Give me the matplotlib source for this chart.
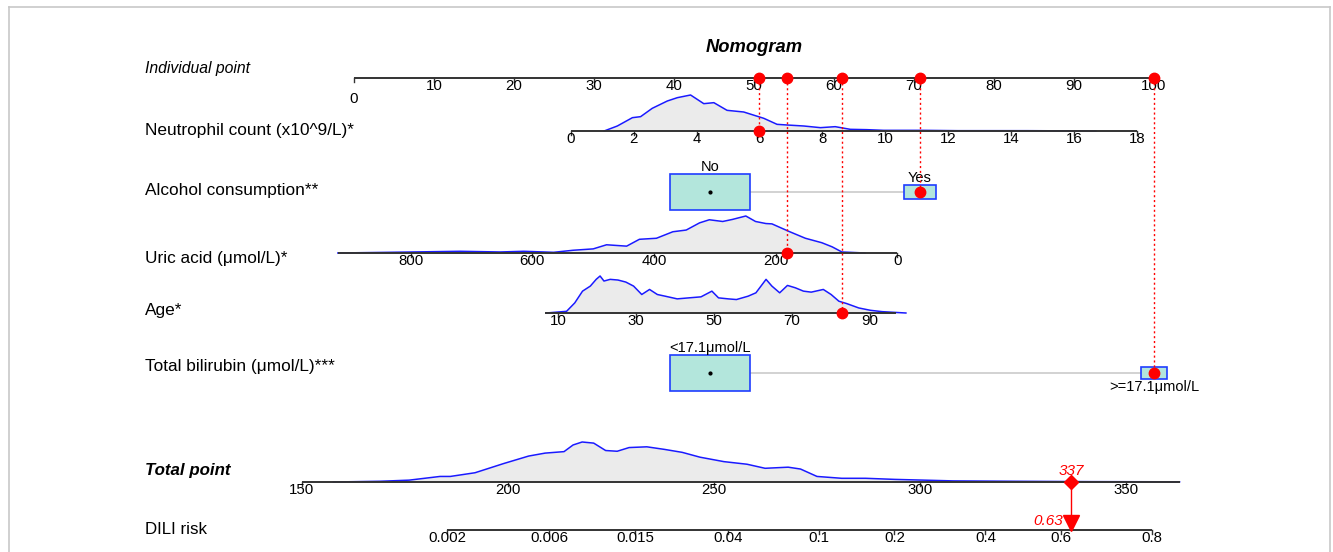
import numpy as np
import matplotlib.pyplot as plt

plt.rcParams['font.family'] = ['Liberation Sans', 'DejaVu Sans']

# ---- values ----
point_ticks = list(range(0, 101, 10))

neut_ticks = list(range(0, 19, 2))
neut_range = (0, 18)
neut_a, neut_b = 27.1, 3.93          # points = a + b * value
neut_x = [1.06, 1.48, 1.96, 2.22, 2.59, 3.07, 3.39, 3.81, 4.23, 4.55, 4.97, 5.5, 6.14,
          6.56, 6.88, 7.41, 7.94, 8.41, 8.89, 9.42, 9.95, 10.6, 11.2, 12.3, 14.5, 16.7]
neut_dens = [0, 15, 40, 43, 68, 90, 100, 108, 82, 85, 62, 57, 38,
             20, 18, 15, 10, 13, 5, 4, 2, 2, 2, 1, 1, 0]

alc_cats = ["No", "Yes"]
alc_pts = [44.5, 70.75]
alc_freq = [0.863, 0.137]

uric_ticks = [800, 600, 400, 200, 0]
uric_range = (920, 0)
uric_a, uric_b = 67.9, -0.076
uric_x = [920, 836, 719, 653, 614, 565, 533, 500, 478, 445, 424, 396, 369, 347,
          325, 309, 287, 271, 249, 233, 216, 206, 178, 151, 124, 107, 91, 53]
uric_dens = [0, 2, 5, 3, 5, 2, 8, 12, 24, 20, 40, 43, 62, 67,
             88, 97, 92, 98, 108, 92, 86, 85, 63, 43, 30, 18, 3, 0]

age_ticks = [10, 30, 50, 70, 90]
age_range = (6.7, 96.8)
age_a, age_b = 20.63, 0.487
age_x = [7, 12.2, 14.3, 16.3, 18.3, 19.8, 20.8, 21.8, 23.4, 25.4, 27.4, 29.4, 31.5,
         33.5, 35.5, 37.5, 40.6, 43.6, 46.7, 49.5, 51.2, 53.7, 55.8, 58.8, 60.8,
         63.4, 64.9, 66.9, 68.9, 70.9, 73, 75, 78.1, 80.1, 82.1, 84.1, 87.2, 90.2,
         93.2, 99.3]
age_dens = [0, 5, 30, 65, 80, 100, 110, 95, 100, 98, 92, 80, 55,
            70, 55, 50, 42, 45, 48, 65, 45, 42, 40, 50, 60,
            100, 80, 60, 82, 75, 65, 62, 70, 55, 35, 28, 15, 8,
            4, 0]

bili_cats = ["<17.1\u03bcmol/L", ">=17.1\u03bcmol/L"]
bili_pts = [44.5, 100]
bili_freq = [0.9, 0.1]

total_ticks = [150, 200, 250, 300, 350]
total_range = (150, 363)
total_x = [157.6, 169, 176, 183.5, 186, 192, 199, 205, 209, 213.6, 215.8, 218, 220.8,
           223.7, 226.5, 229.4, 233.7, 238, 242.3, 246.6, 252.4, 258, 262.4, 268,
           271, 275, 281, 286.8, 294, 301, 308, 322.7, 341, 363]
total_dens = [0, 2, 5, 15, 15, 25, 50, 70, 78, 82, 100, 108, 105,
              85, 83, 93, 95, 88, 80, 67, 55, 48, 37, 40,
              35, 15, 10, 10, 7, 5, 3, 2, 1, 0.5]

risk_ticks = [0.002, 0.006, 0.015, 0.04, 0.1, 0.2, 0.4, 0.6, 0.8]
risk_labels = ["0.002", "0.006", "0.015", "0.04", "0.1", "0.2", "0.4", "0.6", "0.8"]
risk_a, risk_b = -14.44, 0.04443     # logit(p) = a + b * total points

# patient shown in red
pat_neut, pat_alc, pat_uric, pat_age, pat_bili = 6.0, "Yes", 181, 83, bili_cats[1]

# ---- helpers ----
def tot2x(tp):
    return -6.5 + (np.asarray(tp, float) - 150) * 0.515

def risk2tot(p):
    p = np.asarray(p, float)
    return (np.log(p / (1 - p)) - risk_a) / risk_b

fig = plt.figure(figsize=(13.33, 5.52), dpi=100)
ax = fig.add_axes([0, 0, 1, 1])
ax.set_xlim(-354 / 8, (1333 - 354) / 8)
ax.set_ylim(552, 0)
ax.axis('off')

# light frame round the figure
bax = fig.add_axes([9 / 1333, -0.05, 1321 / 1333, 1.05 - 7 / 552], zorder=-5)
bax.set_xticks([]); bax.set_yticks([])
for s in bax.spines.values():
    s.set_color('#c8c8c8'); s.set_linewidth(1.2)
bax.patch.set_alpha(0)

LX = -26.1
AXC = '#333333'
TICK_FS = 10.8

def draw_axis(y, x0, x1, tx, tl, drop_first=False):
    ax.plot([x0, x1], [y, y], color=AXC, lw=1.4, solid_capstyle='butt', zorder=2)
    for i, (x, l) in enumerate(zip(tx, tl)):
        ax.plot([x, x], [y, y + 4], color=AXC, lw=1, zorder=2)
        dy = 13 if (drop_first and i == 0) else 0
        ax.text(x, y + 1 + dy, l, ha='center', va='top', fontsize=TICK_FS, zorder=3)

def draw_density(y, xs, dens, h):
    d = np.asarray(dens, float)
    yy = y - d / d.max() * h
    ax.fill_between(xs, y, yy, color='#ebebeb', lw=0, zorder=1)
    ax.plot(xs, yy, color='#1a1aff', lw=1.1, zorder=2)

def draw_boxes(y, pts, freq, cats, label_below_small=False):
    f = np.asarray(freq, float)
    s = np.sqrt(f / f.max())
    ax.plot([pts[0], pts[1]], [y, y], color='#cfcfcf', lw=1.3, zorder=1)
    for i, (p, k, c) in enumerate(zip(pts, s, cats)):
        w, h = 9.9 * k, 36 * k
        ax.add_patch(plt.Rectangle((p - w / 2, y - h / 2), w, h, facecolor='#b3e6dc',
                                   edgecolor='#1f3dff', lw=1.2, zorder=2))
        if k == 1:
            ax.plot(p, y, 'o', color='black', ms=2, zorder=3)
        if label_below_small and k < 1:
            ax.text(p, y + h / 2 + 1, c, ha='center', va='top', fontsize=10.5)
        else:
            ax.text(p, y - h / 2, c, ha='center', va='bottom', fontsize=10.5)

# title and row labels
ax.text(50, 47, "Nomogram", ha='center', va='center', fontsize=13.2,
        fontweight='bold', fontstyle='italic')
ax.text(LX, 68, "Individual point", va='center', fontsize=11.3, fontstyle='italic')
rows = [("Neutrophil count (x10^9/L)*", 131), ("Alcohol consumption**", 190),
        ("Uric acid (\u03bcmol/L)*", 258), ("Age*", 311),
        ("Total bilirubin (\u03bcmol/L)***", 366)]
for name, y in rows:
    ax.text(LX, y, name, va='center', fontsize=12.4)
ax.text(LX, 470, "Total point", va='center', fontsize=12.2, fontweight='bold',
        fontstyle='italic')
ax.text(LX, 529, "DILI risk", va='center', fontsize=12.2,
        family=['Liberation Sans Narrow', 'Liberation Sans'])

# Y positions of rows
Y_TOP, Y_NEUT, Y_ALC, Y_URIC, Y_AGE, Y_BILI, Y_TOT, Y_RISK = 78, 131, 192, 253, 313, 373, 482, 530

# points axis
draw_axis(Y_TOP, 0, 100, point_ticks, [str(t) for t in point_ticks], drop_first=True)

# neutrophil
nf = lambda v: neut_a + neut_b * np.asarray(v, float)
draw_density(Y_NEUT, nf(neut_x), neut_dens, 36)
draw_axis(Y_NEUT, nf(neut_range[0]), nf(neut_range[1]), nf(neut_ticks),
          [str(t) for t in neut_ticks])

# alcohol
draw_boxes(Y_ALC, alc_pts, alc_freq, alc_cats)

# uric acid
uf = lambda v: uric_a + uric_b * np.asarray(v, float)
draw_density(Y_URIC, uf(uric_x), uric_dens, 37)
draw_axis(Y_URIC, uf(uric_range[0]), uf(uric_range[1]), uf(uric_ticks),
          [str(t) for t in uric_ticks])

# age
af = lambda v: age_a + age_b * np.asarray(v, float)
draw_density(Y_AGE, af(age_x), age_dens, 37)
draw_axis(Y_AGE, af(age_range[0]), af(age_range[1]), af(age_ticks),
          [str(t) for t in age_ticks])

# bilirubin
draw_boxes(Y_BILI, bili_pts, bili_freq, bili_cats, label_below_small=True)

# total points
draw_density(Y_TOT, tot2x(total_x), total_dens, 40)
draw_axis(Y_TOT, tot2x(total_range[0]), tot2x(total_range[1]), tot2x(total_ticks),
          [str(t) for t in total_ticks])

# risk
rx = tot2x(risk2tot(risk_ticks))
draw_axis(Y_RISK, rx[0], rx[-1], rx, risk_labels)

# patient
p_pts = [float(nf(pat_neut)), alc_pts[alc_cats.index(pat_alc)], float(uf(pat_uric)),
         float(af(pat_age)), bili_pts[bili_cats.index(pat_bili)]]
p_rows = [Y_NEUT, Y_ALC, Y_URIC, Y_AGE, Y_BILI]
for p, y in zip(p_pts, p_rows):
    ax.plot([p, p], [Y_TOP, y], color='red', lw=1, ls=(0, (1.5, 2)), zorder=4)
    ax.plot(p, Y_TOP, 'o', color='red', ms=7.5, zorder=5)
    ax.plot(p, y, 'o', color='red', ms=7.5, zorder=5)

tp = sum(p_pts)
risk = 1 / (1 + np.exp(-(risk_a + risk_b * tp)))
tx = float(tot2x(tp))
ax.plot([tx, tx], [Y_TOT, Y_RISK - 8], color='red', lw=1, zorder=4)
ax.plot(tx, Y_TOT, 'D', color='red', ms=7, zorder=5)
ax.plot(tx, Y_RISK - 7, 'v', color='red', ms=11, zorder=5)
ax.text(tx, Y_TOT - 4, f"{tp:.0f}", color='red', ha='center', va='bottom',
        fontsize=11, fontstyle='italic')
ax.text(tx - 1, Y_RISK - 9, f"{risk:.2f}", color='red', ha='right', va='center',
        fontsize=11, fontstyle='italic')

fig.savefig("out.png", dpi=100)
